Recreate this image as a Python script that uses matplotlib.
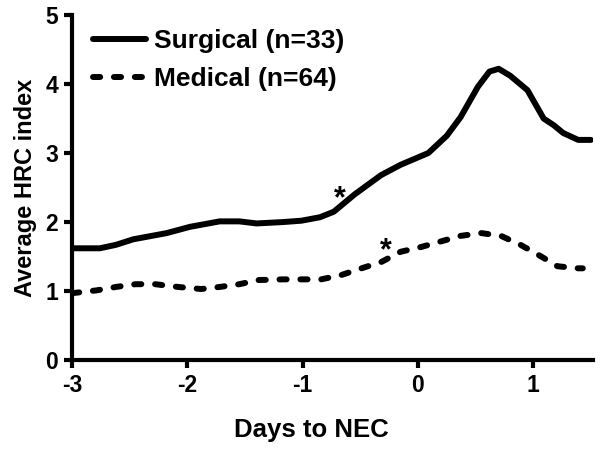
import matplotlib
matplotlib.use("Agg")
import matplotlib.pyplot as plt

surg_x = [-3, -2.76, -2.62, -2.47, -2.18, -1.98, -1.72, -1.55, -1.40, -1.17, -1.01, -0.85,
          -0.73, -0.55, -0.32, -0.15, 0.09, 0.25, 0.37, 0.52, 0.62, 0.70, 0.80, 0.95, 1.09,
          1.18, 1.26, 1.39, 1.5]
surg_y = [1.62, 1.62, 1.67, 1.75, 1.84, 1.93, 2.01, 2.01, 1.98, 2.0, 2.02, 2.07,
          2.15, 2.40, 2.68, 2.83, 3.0, 3.25, 3.52, 3.96, 4.18, 4.22, 4.12, 3.91, 3.50,
          3.40, 3.29, 3.19, 3.19]
med_x = [-3, -2.79, -2.62, -2.45, -2.28, -2.08, -1.88, -1.72, -1.55, -1.38, -1.17, -1.01,
         -0.84, -0.67, -0.49, -0.32, -0.15, 0.03, 0.2, 0.37, 0.55, 0.72, 0.89, 1.06, 1.21,
         1.39, 1.43]
med_y = [0.97, 1.01, 1.06, 1.10, 1.10, 1.06, 1.03, 1.06, 1.10, 1.16, 1.17, 1.17,
         1.17, 1.23, 1.33, 1.42, 1.57, 1.64, 1.72, 1.80, 1.84, 1.80, 1.67, 1.51, 1.36,
         1.33, 1.33]
star_x = [-0.68, -0.28]
star_y = [2.11, 1.36]
labels = ["Surgical (n=33)", "Medical (n=64)"]
x_ticks = [-3, -2, -1, 0, 1]
y_ticks = [0, 1, 2, 3, 4, 5]

plt.rcParams['font.family'] = ['Liberation Sans', 'DejaVu Sans']
plt.rcParams['font.weight'] = 'bold'

fig = plt.figure(figsize=(6.01, 4.53), dpi=100)
ax = fig.add_axes([0.12, 0.205, 0.867, 0.762])

ax.plot(surg_x, surg_y, color='black', lw=4.3, solid_capstyle='round',
        solid_joinstyle='round', label=labels[0])
ax.plot(med_x, med_y, color='black', lw=4.3, linestyle=(0, (1.2, 2.3)),
        dash_capstyle='round', label=labels[1])
for sx, sy in zip(star_x, star_y):
    ax.text(sx, sy, '*', fontsize=22, fontweight='bold', ha='center', va='bottom')

ax.set_xlim(-3, 1.52)
ax.set_ylim(0, 5)
ax.set_xticks(x_ticks)
ax.set_yticks(y_ticks)
ax.set_xticklabels([str(v) for v in x_ticks])
ax.spines['top'].set_visible(False)
ax.spines['right'].set_visible(False)
for s in ['left', 'bottom']:
    ax.spines[s].set_linewidth(3)
ax.tick_params(width=3, length=6, labelsize=16.5, pad=4)
ax.set_xlabel('Days to NEC', fontsize=18.5, fontweight='bold')
ax.xaxis.set_label_coords(0.459, -0.168)
ax.set_ylabel('Average HRC index', fontsize=17, fontweight='bold', labelpad=6)

ax.legend(loc='upper left', bbox_to_anchor=(0.02, 0.99), frameon=False,
          prop={'size': 19, 'weight': 'bold'}, handlelength=2.0,
          handletextpad=0.3, labelspacing=0.55, borderaxespad=0)

fig.savefig('out.png', dpi=100)
